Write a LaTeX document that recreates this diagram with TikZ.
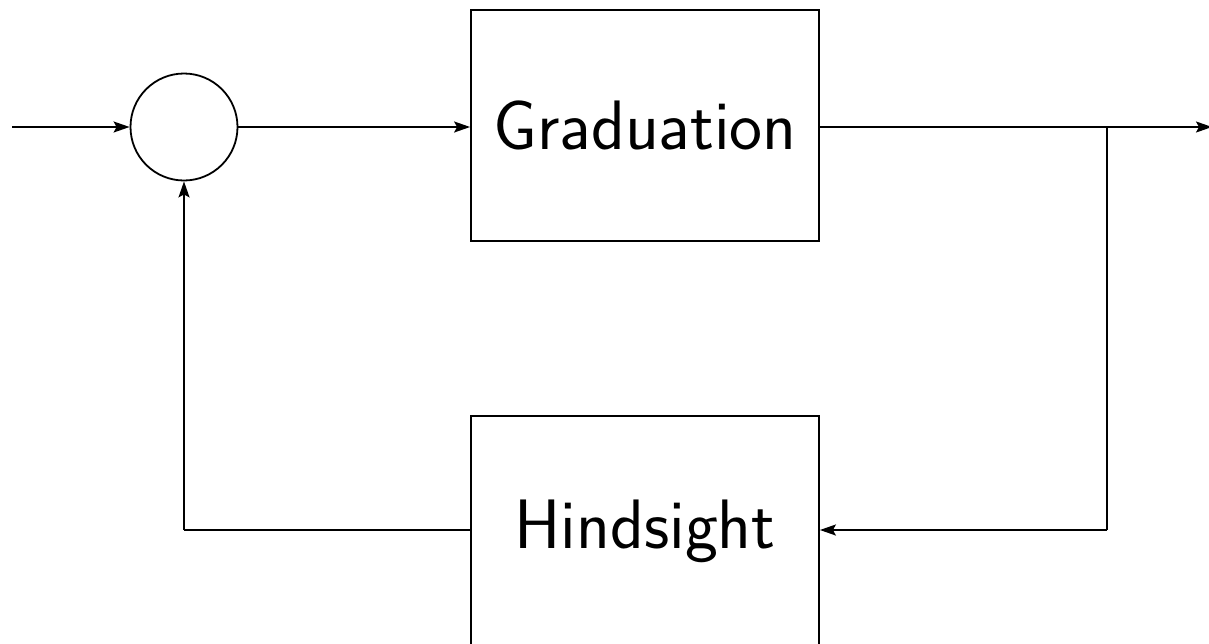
\documentclass[tikz,border=0pt]{standalone}
\usetikzlibrary{arrows.meta}
\begin{document}
\begin{tikzpicture}[x=1pt,y=-1pt,
  blk/.style={draw,line width=1.8pt,minimum width=348pt,minimum height=231pt,inner sep=0pt,font=\fontsize{70}{84}\selectfont\sffamily},
  sumc/.style={draw,circle,line width=1.8pt,minimum size=107pt,inner sep=0pt},
  conn/.style={line width=1.8pt,-{Stealth[length=16pt,width=11pt,inset=3pt]}},
  plain/.style={line width=1.8pt}]
\useasboundingbox (0,0) rectangle (1209,643);
\node[sumc] (s) at (184,127) {};
\node[blk] (g) at (645,125.5) {Graduation};
\node[blk] (h) at (645,531.5) {Hindsight};
\coordinate (in) at (12,127);
\coordinate (out) at (1212,127);
\coordinate (br) at (1107,127);
\coordinate (brd) at (1107,530);
\coordinate (fb) at (184,530);
\draw[conn] (in) -- (s.west);
\draw[conn] (s.east) -- (g.west |- s.east);
\draw[conn] (g.east |- s.east) -- (out);
\draw[plain] (br) -- (brd);
\draw[conn] (brd) -- (h.east |- brd);
\draw[plain] (h.west |- fb) -- (fb);
\draw[conn] (fb) -- (s.south);
\end{tikzpicture}
\end{document}
